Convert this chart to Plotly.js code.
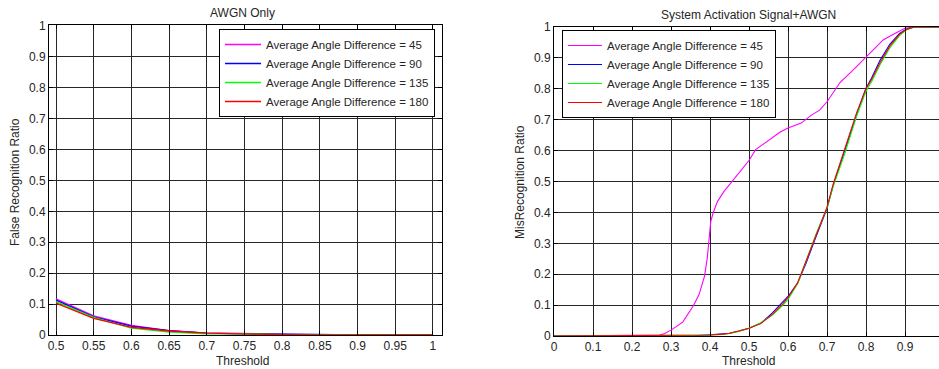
<!DOCTYPE html>
<html>
<head>
<meta charset="utf-8">
<script src="https://cdn.plot.ly/plotly-3.0.1.min.js"></script>
<style>html,body{margin:0;padding:0;background:#fff;}#chart{width:939px;height:369px;}</style>
</head>
<body>
<div id="chart"></div>
<script>
// ---------- Data ----------
const seriesNames = ["Average Angle Difference = 45", "Average Angle Difference = 90",
                     "Average Angle Difference = 135", "Average Angle Difference = 180"];
const seriesColors = ["#ff00ff", "#0000ff", "#00ff00", "#ff0000"];

// Left panel: AWGN Only
const leftX = [0.5, 0.55, 0.6, 0.65, 0.7, 0.75, 0.8, 0.85, 0.9, 0.95, 1.0];
const leftY45  = [0.117, 0.062, 0.031, 0.014, 0.006, 0.003, 0.001, 0, 0, 0, 0];
const leftY90  = [0.113, 0.059, 0.029, 0.014, 0.006, 0.004, 0.003, 0, 0, 0, 0];
const leftY135 = [0.108, 0.057, 0.022, 0.009, 0.004, 0.004, 0.001, 0, 0, 0, 0];
const leftY180 = [0.103, 0.054, 0.025, 0.013, 0.006, 0.003, 0.001, 0, 0, 0, 0];
const leftXTicks = [0.5, 0.55, 0.6, 0.65, 0.7, 0.75, 0.8, 0.85, 0.9, 0.95, 1];
const leftXTickText = ["0.5", "0.55", "0.6", "0.65", "0.7", "0.75", "0.8", "0.85", "0.9", "0.95", "1"];

// Right panel: System Activation Signal+AWGN
const rightX45 = [0, 0.21, 0.27, 0.28, 0.30, 0.33, 0.357, 0.372, 0.386, 0.393, 0.397, 0.402, 0.408, 0.419,
                  0.436, 0.453, 0.475, 0.50, 0.517, 0.552, 0.58, 0.60, 0.634, 0.659, 0.681, 0.70, 0.734,
                  0.768, 0.80, 0.819, 0.844, 0.869, 0.886, 0.90, 0.92, 0.95, 1.0];
const rightY45 = [0, 0.002, 0.003, 0.006, 0.019, 0.045, 0.097, 0.134, 0.194, 0.253, 0.312, 0.371, 0.398, 0.435,
                  0.468, 0.495, 0.53, 0.568, 0.603, 0.635, 0.66, 0.673, 0.689, 0.714, 0.731, 0.758, 0.821,
                  0.862, 0.902, 0.927, 0.958, 0.976, 0.987, 0.996, 1.0, 1.0, 1.0];

const rightX = [0, 0.36, 0.40, 0.434, 0.45, 0.474, 0.50, 0.53, 0.56, 0.586, 0.60, 0.625, 0.647, 0.672,
                0.70, 0.716, 0.733, 0.746, 0.776, 0.789, 0.80, 0.814, 0.836, 0.861, 0.886, 0.903, 0.924, 0.95, 1.0];
const rightY90  = [0, 0.001, 0.004, 0.007, 0.009, 0.016, 0.025, 0.041, 0.075, 0.110, 0.128, 0.172, 0.238, 0.322,
                   0.412, 0.488, 0.553, 0.600, 0.722, 0.765, 0.802, 0.834, 0.892, 0.944, 0.979, 0.993, 1.0, 1.0, 1.0];
const rightY135 = [0, 0.001, 0.003, 0.005, 0.008, 0.015, 0.025, 0.043, 0.068, 0.098, 0.118, 0.170, 0.246, 0.330,
                   0.414, 0.484, 0.545, 0.592, 0.712, 0.755, 0.792, 0.822, 0.878, 0.932, 0.972, 0.990, 1.0, 1.0, 1.0];
const rightY180 = [0, 0.001, 0.003, 0.006, 0.009, 0.016, 0.025, 0.040, 0.070, 0.103, 0.124, 0.173, 0.244, 0.330,
                   0.417, 0.492, 0.557, 0.603, 0.723, 0.764, 0.800, 0.829, 0.884, 0.938, 0.976, 0.992, 1.0, 1.0, 1.0];
const rightXTicks = [0, 0.1, 0.2, 0.3, 0.4, 0.5, 0.6, 0.7, 0.8, 0.9];
const rightXTickText = ["0", "0.1", "0.2", "0.3", "0.4", "0.5", "0.6", "0.7", "0.8", "0.9"];

const yTicks = [0, 0.1, 0.2, 0.3, 0.4, 0.5, 0.6, 0.7, 0.8, 0.9, 1];
const yTickText = ["0", "0.1", "0.2", "0.3", "0.4", "0.5", "0.6", "0.7", "0.8", "0.9", "1"];

// ---------- Traces ----------
const leftYs = [leftY45, leftY90, leftY135, leftY180];
const rightXs = [rightX45, rightX, rightX, rightX];
const rightYs = [rightY45, rightY90, rightY135, rightY180];

const traces = [];
for (let i = 0; i < 4; i++) {
  traces.push({
    x: leftX, y: leftYs[i], type: "scatter", mode: "lines",
    name: seriesNames[i], line: {color: seriesColors[i], width: 1.3},
    xaxis: "x", yaxis: "y", legend: "legend"
  });
}
for (let i = 0; i < 4; i++) {
  traces.push({
    x: rightXs[i], y: rightYs[i], type: "scatter", mode: "lines",
    name: seriesNames[i], line: {color: seriesColors[i], width: 1.1},
    xaxis: "x2", yaxis: "y2", legend: "legend2"
  });
}

// ---------- Layout ----------
const W = 939, H = 369;
const FONT = "Liberation Sans, Arial, sans-serif";
const TXT = "#262626";

function axisCommon() {
  return {
    showgrid: true, gridcolor: "#262626", gridwidth: 1,
    zeroline: false, showline: true, linecolor: "#000", linewidth: 1,
    ticks: "inside", ticklen: 4, tickcolor: "#000",
    tickfont: {family: FONT, size: 12, color: TXT},
    fixedrange: true
  };
}

const legendCommon = {
  xanchor: "left", yanchor: "top",
  bgcolor: "#ffffff", bordercolor: "#000", borderwidth: 1,
  font: {family: FONT, size: 11.5, color: TXT},
  tracegroupgap: 0
};

const layout = {
  width: W, height: H,
  margin: {l: 0, r: 0, t: 0, b: 0},
  paper_bgcolor: "#fff", plot_bgcolor: "#fff",
  font: {family: FONT, size: 12, color: TXT},
  showlegend: true,
  xaxis: Object.assign(axisCommon(), {
    domain: [49 / W, 442 / W], range: [0.4907, 1.012],
    tickmode: "array", tickvals: leftXTicks, ticktext: leftXTickText,
    mirror: "ticks", anchor: "y"
  }),
  yaxis: Object.assign(axisCommon(), {
    domain: [1 - 335 / H, 1 - 25 / H], range: [0, 1.003],
    tickmode: "array", tickvals: yTicks, ticktext: yTickText,
    mirror: "ticks", anchor: "x"
  }),
  xaxis2: Object.assign(axisCommon(), {
    domain: [554 / W, 1], range: [0, 385 / 390],
    tickmode: "array", tickvals: rightXTicks, ticktext: rightXTickText,
    mirror: "ticks", anchor: "y2"
  }),
  yaxis2: Object.assign(axisCommon(), {
    domain: [1 - 336 / H, 1 - 27 / H], range: [0, 1],
    tickmode: "array", tickvals: yTicks, ticktext: yTickText,
    mirror: false, anchor: "x2"
  }),
  legend: Object.assign({}, legendCommon, {x: 219 / W, y: 1 - 29 / H, itemwidth: 36}),
  legend2: Object.assign({}, legendCommon, {x: 562 / W, y: 1 - 30 / H, itemwidth: 34}),
  annotations: [
    {text: "AWGN Only", x: 243 / W, y: 1 - 13 / H, xref: "paper", yref: "paper",
     showarrow: false, xanchor: "center", yanchor: "middle", font: {family: FONT, size: 12, color: TXT}},
    {text: "System Activation Signal+AWGN", x: 748 / W, y: 1 - 15 / H, xref: "paper", yref: "paper",
     showarrow: false, xanchor: "center", yanchor: "middle", font: {family: FONT, size: 12, color: TXT}},
    {text: "Threshold", x: 243 / W, y: 1 - 361 / H, xref: "paper", yref: "paper",
     showarrow: false, xanchor: "center", yanchor: "middle", font: {family: FONT, size: 12, color: TXT}},
    {text: "Threshold", x: 748 / W, y: 1 - 361 / H, xref: "paper", yref: "paper",
     showarrow: false, xanchor: "center", yanchor: "middle", font: {family: FONT, size: 12, color: TXT}},
    {text: "False Recognition Ratio", x: 15 / W, y: 1 - 182 / H, xref: "paper", yref: "paper",
     showarrow: false, textangle: -90, xanchor: "center", yanchor: "middle", font: {family: FONT, size: 12, color: TXT}},
    {text: "MisRecognition Ratio", x: 520 / W, y: 1 - 182 / H, xref: "paper", yref: "paper",
     showarrow: false, textangle: -90, xanchor: "center", yanchor: "middle", font: {family: FONT, size: 12, color: TXT}}
  ]
};

Plotly.newPlot("chart", traces, layout, {displayModeBar: false, staticPlot: true});
</script>
</body>
</html>
